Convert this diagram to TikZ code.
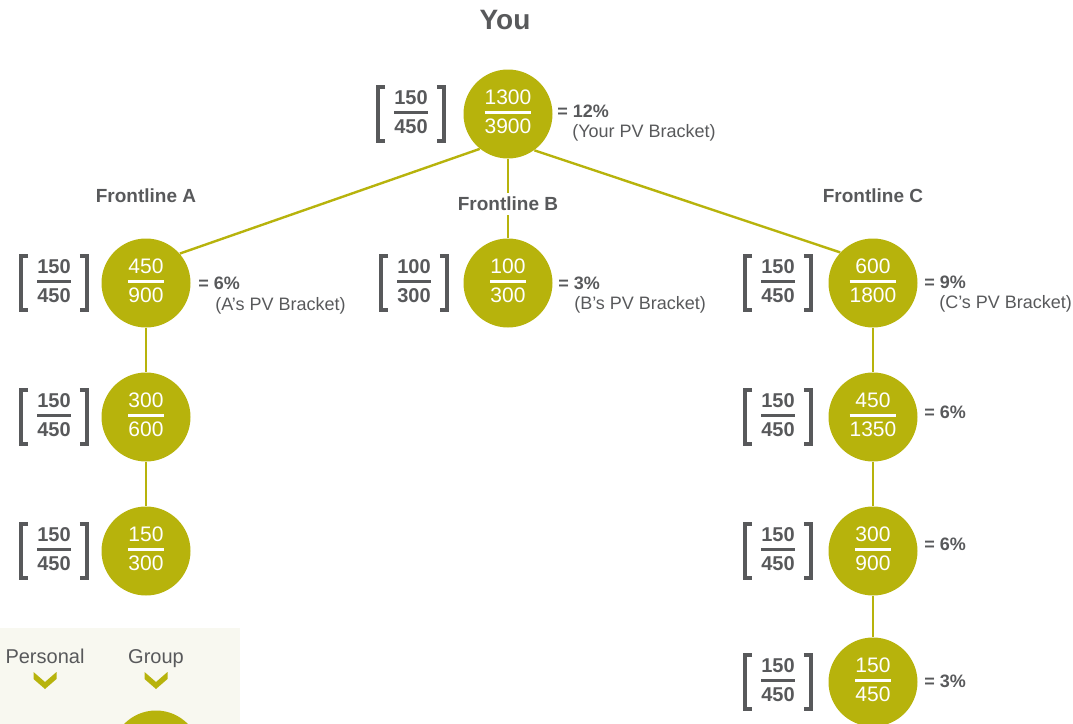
\documentclass[tikz,border=0pt]{standalone}
\usepackage{fontspec}
\setmainfont{Liberation Sans}
\usepackage{tikz}
\usetikzlibrary{shapes.geometric, arrows}
\definecolor{pvolive}{RGB}{183,179,12}
\definecolor{pvgray}{RGB}{88,89,91}
\definecolor{pvbg}{RGB}{248,248,240}
\setlength{\arrayrulewidth}{1.1pt}
\newcommand{\nfrac}[2]{\begin{tabular}{@{}c@{}}#1\\\hline\rule{0pt}{10pt}#2\end{tabular}}
\tikzstyle{circ} = [circle, fill=pvolive, minimum size=44.5pt, inner sep=0pt, text=white, font=\fontsize{10.5}{12}\selectfont]
\tikzstyle{brk} = [minimum width=32.5pt, minimum height=25pt, inner sep=0pt, text=pvgray, font=\fontsize{10}{12}\selectfont\bfseries]
\tikzstyle{pct} = [anchor=base west, inner sep=0pt, text=pvgray, font=\fontsize{9}{11}\selectfont\bfseries]
\tikzstyle{pv} = [anchor=base west, inner sep=0pt, text=pvgray, font=\fontsize{9}{11}\selectfont]
\tikzstyle{head} = [fill=white, inner sep=2pt, text=pvgray, font=\fontsize{9.5}{11}\selectfont\bfseries]
\tikzstyle{key} = [anchor=base, inner sep=0pt, text=pvgray, font=\fontsize{10}{12}\selectfont]
\tikzstyle{link} = [pvolive, line width=1.2pt]
\tikzstyle{bar} = [pvgray, line width=2pt]

\begin{document}
\begin{tikzpicture}[x=0.5pt, y=-0.5pt, node distance=67pt]
\useasboundingbox (0,0) rectangle (1073,724);
\clip (0,0) rectangle (1073,724);
\fill[pvbg] (0,628) rectangle (240,724);

% circles
\node (you) [circ] at (508,114) {\nfrac{1300}{3900}};
\node (fa1) [circ] at (146,283) {\nfrac{450}{900}};
\node (fa2) [circ, below of=fa1] {\nfrac{300}{600}};
\node (fa3) [circ, below of=fa2] {\nfrac{150}{300}};
\node (fb1) [circ] at (508,283) {\nfrac{100}{300}};
\node (fc1) [circ] at (873,283) {\nfrac{600}{1800}};
\node (fc2) [circ, below of=fc1] {\nfrac{450}{1350}};
\node (fc3) [circ, below of=fc2] {\nfrac{300}{900}};
\node (fc4) [circ, below of=fc3, yshift=1.5pt] {\nfrac{150}{450}};

% connectors
\draw [link] (you.231) -- (fa1.41);
\draw [link] (you.-54) -- (fc1.137);
\draw [link] (fa1.south) -- (fa2.north);
\draw [link] (fa2.south) -- (fa3.north);
\draw [link] (fc1.south) -- (fc2.north);
\draw [link] (fc2.south) -- (fc3.north);
\draw [link] (fc3.south) -- (fc4.north);
\draw [link] (you.south) -- (fb1.north);

% headings
\node (you-t) [head, font=\fontsize{14}{16}\selectfont\bfseries] at (505,20) {You};
\node (la) [head, node distance=43.5pt, above of=fa1] {Frontline A};
\node (lb) [head, node distance=39.5pt, above of=fb1] {Frontline B};
\node (lc) [head, node distance=43.5pt, above of=fc1] {Frontline C};

% personal brackets
\node (byou) [brk, node distance=48.5pt, left of=you] {\nfrac{150}{450}};
\node (ba1) [brk, node distance=46pt, left of=fa1] {\nfrac{150}{450}};
\node (ba2) [brk, node distance=46pt, left of=fa2] {\nfrac{150}{450}};
\node (ba3) [brk, node distance=46pt, left of=fa3] {\nfrac{150}{450}};
\node (bb1) [brk, node distance=47pt, left of=fb1] {\nfrac{100}{300}};
\node (bc1) [brk, node distance=47.5pt, left of=fc1] {\nfrac{150}{450}};
\node (bc2) [brk, node distance=47.5pt, left of=fc2] {\nfrac{150}{450}};
\node (bc3) [brk, node distance=47.5pt, left of=fc3] {\nfrac{150}{450}};
\node (bc4) [brk, node distance=47.5pt, left of=fc4] {\nfrac{150}{450}};
\foreach \k in {byou, ba1, ba2, ba3, bb1, bc1, bc2, bc3, bc4}
  \draw [bar] ([xshift=3.5pt]\k.north west) -- (\k.north west) -- (\k.south west) -- ([xshift=3.5pt]\k.south west)
              ([xshift=-3.5pt]\k.north east) -- (\k.north east) -- (\k.south east) -- ([xshift=-3.5pt]\k.south east);

% percentages
\node (pyou) [pct] at ([xshift=2pt, yshift=-1.7pt]you.east) {= 12\%};
\node (vyou) [pv] at ([xshift=7.5pt, yshift=-10pt]pyou.base west) {(Your PV Bracket)};
\node (pa1) [pct] at ([xshift=3.5pt, yshift=-3.2pt]fa1.east) {= 6\%};
\node (va1) [pv] at ([xshift=8.5pt, yshift=-10.5pt]pa1.base west) {(A’s PV Bracket)};
\node (pb1) [pct] at ([xshift=2.5pt, yshift=-3.2pt]fb1.east) {= 3\%};
\node (vb1) [pv] at ([xshift=8pt, yshift=-10pt]pb1.base west) {(B’s PV Bracket)};
\node (pc1) [pct] at ([xshift=3pt, yshift=-2.7pt]fc1.east) {= 9\%};
\node (vc1) [pv] at ([xshift=7.5pt, yshift=-10pt]pc1.base west) {(C’s PV Bracket)};
\node (pc2) [pct] at ([xshift=3pt, yshift=-0.5pt]fc2.east) {= 6\%};
\node (pc3) [pct] at ([xshift=3pt, yshift=0.5pt]fc3.east) {= 6\%};
\node (pc4) [pct] at ([xshift=3pt, yshift=-2.7pt]fc4.east) {= 3\%};

% legend
\node (lp) [key] at (45,663) {Personal};
\node (lg) [key] at (156,663) {Group};
\coordinate (cp) at (45,680);
\coordinate (cg) at (156,680);
\foreach \c in {cp, cg}
  \fill [pvolive] ([shift={(-11.5,-8)}]\c) -- ([shift={(0,2)}]\c) -- ([shift={(11.5,-8)}]\c)
                  -- ([shift={(11.5,-1)}]\c) -- ([shift={(0,9)}]\c) -- ([shift={(-11.5,-1)}]\c) -- cycle;
\node (lgc) [circ] at (156,755) {};
\end{tikzpicture}
\end{document}
